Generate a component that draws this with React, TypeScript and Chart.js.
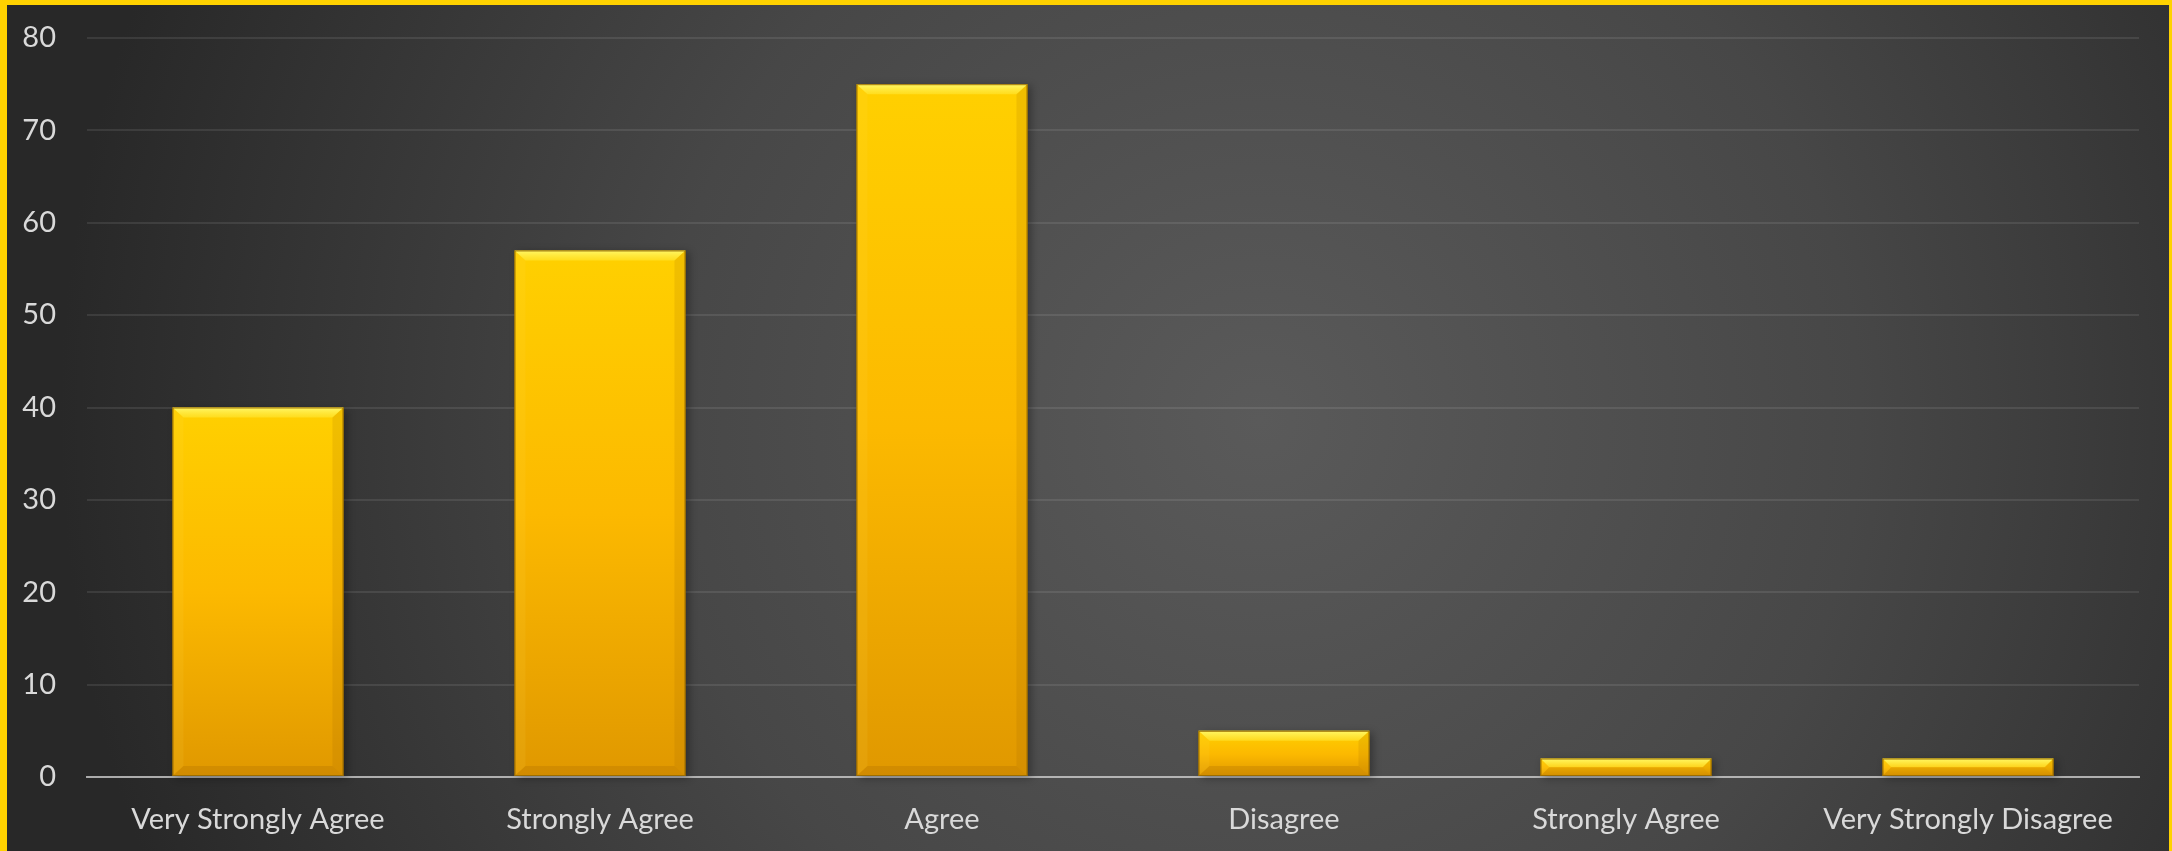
import React, { useEffect, useRef } from "react";
import { Chart, registerables } from "chart.js";

Chart.register(...registerables);

const categories = [
  "Very Strongly Agree",
  "Strongly Agree",
  "Agree",
  "Disagree",
  "Strongly Agree",
  "Very Strongly Disagree",
];
const responses = [40, 57, 75, 5, 2, 2];
const yMin = 0;
const yMax = 80;
const yStep = 10;

const FONT = "Lato, 'Open Sans', sans-serif";

const backgroundPlugin = {
  id: "bgPlugin",
  beforeDraw(chart: any) {
    const { ctx, width, height } = chart;
    ctx.save();
    const g = ctx.createRadialGradient(1260, 420, 0, 1260, 420, 1200);
    g.addColorStop(0, "#5a5a5a");
    g.addColorStop(0.5, "#474747");
    g.addColorStop(1, "#282828");
    ctx.fillStyle = g;
    ctx.fillRect(0, 0, width, height);
    ctx.restore();
  },
  afterDraw(chart: any) {
    const { ctx, width, height } = chart;
    ctx.save();
    ctx.fillStyle = "#FFD200";
    ctx.fillRect(0, 0, width, 5);
    ctx.fillRect(0, 0, 7, height);
    ctx.fillRect(width - 3, 0, 3, height);
    ctx.restore();
  },
};

const bevelPlugin = {
  id: "bevelPlugin",
  beforeDatasetsDraw(chart: any) {
    const { ctx } = chart;
    const meta = chart.getDatasetMeta(0);
    ctx.save();
    meta.data.forEach((bar: any) => {
      const l = bar.x - bar.width / 2;
      const t = Math.min(bar.y, bar.base);
      const h = Math.abs(bar.base - bar.y);
      ctx.shadowColor = "rgba(0,0,0,0.55)";
      ctx.shadowBlur = 8;
      ctx.shadowOffsetX = 3;
      ctx.shadowOffsetY = 2;
      ctx.fillStyle = "rgba(0,0,0,0.6)";
      ctx.fillRect(l, t, bar.width, h);
    });
    ctx.restore();
  },
  afterDatasetsDraw(chart: any) {
    const { ctx } = chart;
    const meta = chart.getDatasetMeta(0);
    ctx.save();
    meta.data.forEach((bar: any) => {
      const l = bar.x - bar.width / 2;
      const r = bar.x + bar.width / 2;
      const t = Math.min(bar.y, bar.base);
      const b = Math.max(bar.y, bar.base);
      const h = b - t;
      const bv = Math.min(10, h / 2);
      const bh = Math.min(11, h / 2);
      ctx.beginPath();
      ctx.moveTo(l, t);
      ctx.lineTo(r, t);
      ctx.lineTo(r - bh, t + bv);
      ctx.lineTo(l + bh, t + bv);
      ctx.closePath();
      const gt = ctx.createLinearGradient(0, t, 0, t + bv);
      gt.addColorStop(0, "rgba(255,250,110,0.95)");
      gt.addColorStop(1, "rgba(255,235,60,0.5)");
      ctx.fillStyle = gt;
      ctx.fill();
      ctx.beginPath();
      ctx.moveTo(l, t);
      ctx.lineTo(l + bh, t + bv);
      ctx.lineTo(l + bh, b - bv);
      ctx.lineTo(l, b);
      ctx.closePath();
      ctx.fillStyle = "rgba(255,225,90,0.1)";
      ctx.fill();
      ctx.beginPath();
      ctx.moveTo(r, t);
      ctx.lineTo(r - bh, t + bv);
      ctx.lineTo(r - bh, b - bv);
      ctx.lineTo(r, b);
      ctx.closePath();
      ctx.fillStyle = "rgba(150,90,0,0.14)";
      ctx.fill();
      ctx.beginPath();
      ctx.moveTo(l, b);
      ctx.lineTo(r, b);
      ctx.lineTo(r - bh, b - bv);
      ctx.lineTo(l + bh, b - bv);
      ctx.closePath();
      ctx.fillStyle = "rgba(150,90,0,0.2)";
      ctx.fill();
      ctx.strokeStyle = "rgba(150,105,0,0.9)";
      ctx.lineWidth = 1;
      ctx.strokeRect(l + 0.5, t + 0.5, r - l - 1, h - 1);
    });
    ctx.restore();
  },
};

export default function App() {
  const ref = useRef<HTMLCanvasElement | null>(null);

  useEffect(() => {
    if (!ref.current) return;
    const chart = new Chart(ref.current, {
      type: "bar",
      data: {
        labels: categories,
        datasets: [
          {
            label: "Responses",
            data: responses,
            backgroundColor: (c: any) => {
              const ch = c.chart;
              const ys = ch.scales && ch.scales.y;
              if (!ys || c.raw == null) return "#FFC000";
              const top = ys.getPixelForValue(c.raw);
              const bot = ys.getPixelForValue(0);
              if (!isFinite(top) || !isFinite(bot) || top === bot) return "#FFC000";
              const g = ch.ctx.createLinearGradient(0, top, 0, bot);
              g.addColorStop(0, "#FFD000");
              g.addColorStop(0.5, "#FCB900");
              g.addColorStop(1, "#E09800");
              return g;
            },
            borderWidth: 0,
            barPercentage: 0.5,
            categoryPercentage: 1,
          },
        ],
      },
      options: {
        responsive: false,
        animation: false,
        layout: { padding: { top: 38, right: 33, bottom: 0, left: 0 } },
        plugins: {
          legend: { display: false },
          tooltip: { enabled: false },
          title: { display: false },
        },
        scales: {
          x: {
            z: 1,
            grid: { display: false },
            border: { display: true, color: "rgba(210,210,210,0.75)", width: 2 },
            ticks: {
              color: "#d9d9d9",
              font: { family: FONT, size: 29 },
              padding: 17,
              maxRotation: 0,
              autoSkip: false,
            },
            afterFit: (s: any) => {
              s.height = 74;
            },
          },
          y: {
            min: yMin,
            max: yMax,
            grid: {
              color: "rgba(255,255,255,0.09)",
              lineWidth: 2,
              drawTicks: false,
            },
            border: { display: false },
            ticks: {
              stepSize: yStep,
              color: "#d9d9d9",
              font: { family: FONT, size: 29 },
              padding: 31,
            },
            afterFit: (s: any) => {
              s.width = 87;
              s.paddingTop = 0;
              s.paddingBottom = 0;
            },
          },
        },
      },
      plugins: [backgroundPlugin, bevelPlugin],
    });
    return () => chart.destroy();
  }, []);

  return (
    <div style={{ position: "absolute", left: 0, top: 0, width: 2172, height: 851 }}>
      <canvas ref={ref} width={2172} height={851} style={{ display: "block" }} />
    </div>
  );
}
